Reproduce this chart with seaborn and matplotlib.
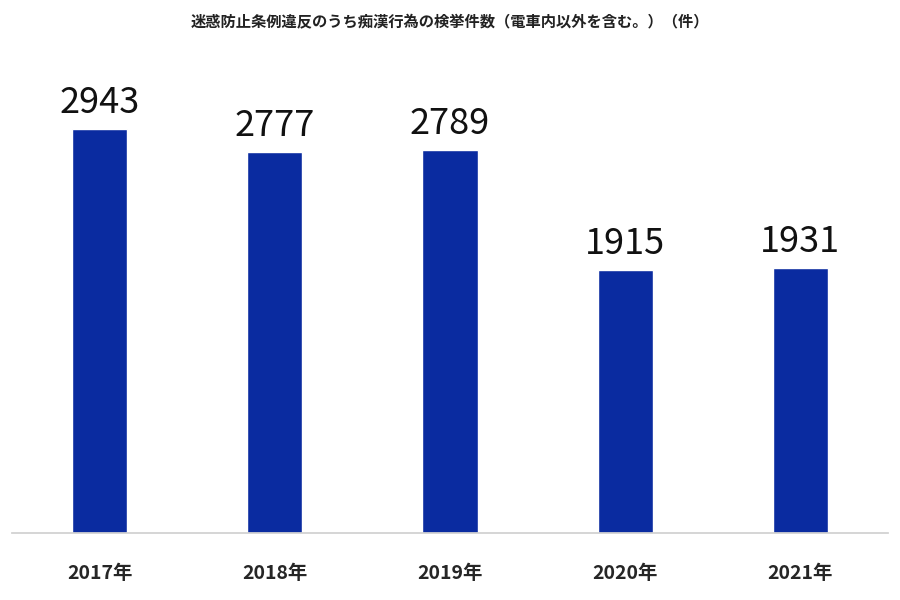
import matplotlib
matplotlib.use("Agg")
import matplotlib.pyplot as plt
import seaborn as sns
import pandas as pd

years = ["2017年", "2018年", "2019年", "2020年", "2021年"]
counts = [2943, 2777, 2789, 1915, 1931]
title = "迷惑防止条例違反のうち痴漢行為の検挙件数（電車内以外を含む。）（件）"

sns.set_theme(style="white")
plt.rcParams['font.family'] = ['Noto Sans CJK JP', 'DejaVu Sans']

df = pd.DataFrame({"year": years, "count": counts})
fig = plt.figure(figsize=(9, 6), dpi=100)
ax = fig.add_axes([12/900, 1-533/600, 876/900, 493/600])
sns.barplot(data=df, x="year", y="count", color="#0A2BA0", saturation=1, width=0.314, ax=ax)
ax.set_xlim(-0.5, 4.5)
ax.set_ylim(0, 3591)
for i, v in enumerate(counts):
    ax.text(i, v + 60, str(v), ha="center", va="bottom", fontsize=26, color="#111111")
for s in ["top", "left", "right"]:
    ax.spines[s].set_visible(False)
ax.spines["bottom"].set_color("#d0d0d0")
ax.set_yticks([])
ax.set_xlabel("")
ax.set_ylabel("")
ax.tick_params(axis="x", length=0, pad=22)
for lab in ax.get_xticklabels():
    lab.set_fontsize(14)
    lab.set_fontweight("bold")
fig.text(0.5, 1-22/600, title, ha="center", va="center", fontsize=11, fontweight="bold", color="#222222")
fig.savefig("out.png", dpi=100)
